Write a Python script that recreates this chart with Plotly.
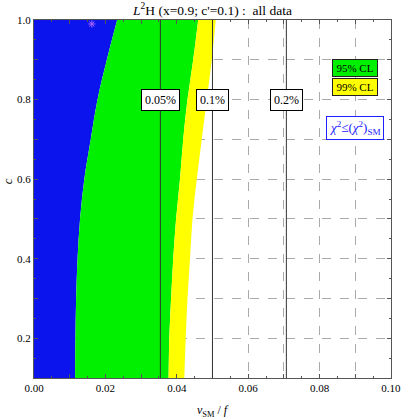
import plotly.graph_objects as go

# c values (vertical axis) and region boundaries in v_SM/f
c_vals = [0.1, 0.2, 0.3, 0.4, 0.5, 0.6, 0.7, 0.8, 0.9, 1.0]
sm_edge = [0.0115, 0.0116, 0.0118, 0.0122, 0.0129, 0.0141, 0.0159, 0.0178, 0.0204, 0.0233]
cl95_edge = [0.0377, 0.0379, 0.0384, 0.0390, 0.0398, 0.0409, 0.0418, 0.0430, 0.0446, 0.0460]
cl99_edge = [0.0421, 0.0425, 0.0430, 0.0437, 0.0444, 0.0456, 0.0470, 0.0484, 0.0498, 0.0509]

# fine-tuning contours
ft_x = [0.0354, 0.0500, 0.0707]
ft_labels = ["0.05%", "0.1%", "0.2%"]
ft_label_c = 0.8

best_x = [0.0162]
best_c = [0.99]

# ticks
x_ticks = [0.00, 0.01, 0.02, 0.03, 0.04, 0.05, 0.06, 0.07, 0.08, 0.09, 0.10]
x_ticklabels = ["0.00", "", "0.02", "", "0.04", "", "0.06", "", "0.08", "", "0.10"]
y_ticks = [0.1, 0.2, 0.3, 0.4, 0.5, 0.6, 0.7, 0.8, 0.9, 1.0]
y_ticklabels = ["", "0.2", "", "0.4", "", "0.6", "", "0.8", "", "1.0"]

serif = "Liberation Serif"

fig = go.Figure()

fig.add_trace(go.Scatter(x=sm_edge, y=c_vals, mode="lines", line=dict(width=0, shape="spline"),
                         fill="tozerox", fillcolor="#0c14ee", hoverinfo="skip"))
fig.add_trace(go.Scatter(x=cl95_edge, y=c_vals, mode="lines", line=dict(width=0, shape="spline"),
                         fill="tonextx", fillcolor="#00f000", hoverinfo="skip"))
fig.add_trace(go.Scatter(x=cl99_edge, y=c_vals, mode="lines", line=dict(width=0, shape="spline"),
                         fill="tonextx", fillcolor="#ffff00", hoverinfo="skip"))
fig.add_trace(go.Scatter(x=best_x, y=best_c, mode="markers",
                         marker=dict(symbol="asterisk-open", size=6,
                                     line=dict(color="#e4e4f4", width=1)),
                         hoverinfo="skip"))

for xv, lab in zip(ft_x, ft_labels):
    fig.add_vline(x=xv, line=dict(color="#333333", width=1))
    fig.add_annotation(x=xv, y=ft_label_c, text=lab, showarrow=False,
                       xanchor="center", yanchor="middle",
                       bgcolor="white", bordercolor="black", borderwidth=1,
                       borderpad=3, font=dict(family=serif, size=12, color="black"))

# legend-like boxes
fig.add_annotation(xref="paper", yref="paper", x=0.90, y=0.866, text="95% CL",
                   xanchor="center", yanchor="middle",
                   showarrow=False, bgcolor="#00f000", bordercolor="#222222",
                   borderwidth=1, borderpad=2, width=40,
                   font=dict(family=serif, size=11, color="black"))
fig.add_annotation(xref="paper", yref="paper", x=0.90, y=0.813, text="99% CL",
                   xanchor="center", yanchor="middle",
                   showarrow=False, bgcolor="#ffff00", bordercolor="#222222",
                   borderwidth=1, borderpad=2, width=40,
                   font=dict(family=serif, size=11, color="black"))
fig.add_annotation(xref="paper", yref="paper", x=0.90, y=0.699,
                   xanchor="center", yanchor="middle",
                   text="<i>χ</i><sup>2</sup>≤(<i>χ</i><sup>2</sup>)<sub>SM</sub>",
                   showarrow=False, bgcolor="white", bordercolor="#2020ff",
                   borderwidth=1, borderpad=2,
                   font=dict(family=serif, size=13, color="#2020ff"))

# axis titles
fig.add_annotation(xref="paper", yref="paper", x=0.5, y=-0.065,
                   xanchor="center", yanchor="top",
                   text="<i>v</i><sub>SM</sub> / <i>f</i>", showarrow=False,
                   font=dict(family=serif, size=12, color="black"))
fig.add_annotation(xref="paper", yref="paper", x=-0.075, y=0.55,
                   xanchor="center", yanchor="middle",
                   text="<i>c</i>", showarrow=False, textangle=-90,
                   font=dict(family=serif, size=13, color="black"))

axis_common = dict(showline=True, linecolor="#555555", linewidth=1, mirror="ticks",
                   ticks="inside", ticklen=4, tickcolor="#555555", zeroline=False,
                   showgrid=True, gridcolor="#aaaaaa", griddash="dash", gridwidth=1,
                   automargin=False, ticklabeloverflow="allow",
                   tickfont=dict(family=serif, size=11, color="black"))

fig.update_xaxes(**axis_common, range=[0, 0.10001], tickmode="array",
                 tickvals=x_ticks, ticktext=x_ticklabels,
                 minor=dict(dtick=0.005, ticks="inside", ticklen=2, tickcolor="#555555",
                            showgrid=False))
fig.update_yaxes(**axis_common, range=[0.1, 1.0], tickmode="array",
                 tickvals=y_ticks, ticktext=y_ticklabels,
                 minor=dict(dtick=0.05, ticks="inside", ticklen=2, tickcolor="#555555",
                            showgrid=False))

fig.update_layout(
    width=401, height=418,
    margin=dict(l=34, r=10, t=20, b=40),
    plot_bgcolor="white", paper_bgcolor="white",
    showlegend=False,
    title=dict(text="<i>L</i><sup>2</sup>H (x=0.9; c'=0.1) :  all data",
               xref="paper", x=0.5, xanchor="center",
               yref="container", y=0.976, yanchor="middle",
               font=dict(family=serif, size=13.5, color="black")),
)

fig.write_html("out.html", config={"displayModeBar": False},
               post_script="document.body.style.margin='0';")
